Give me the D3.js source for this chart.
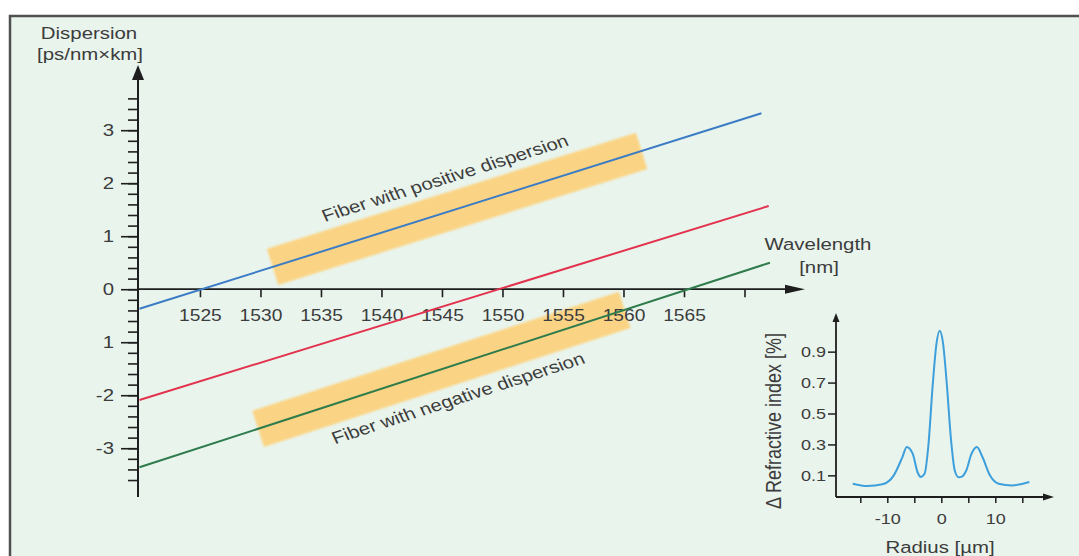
<!DOCTYPE html>
<html>
<head>
<meta charset="utf-8">
<script src="https://cdn.jsdelivr.net/npm/d3@7"></script>
<style>
  html, body { margin: 0; padding: 0; background: #ffffff; }
  svg { display: block; }
  text { font-family: "Liberation Sans", Arial, sans-serif; fill: #3c3c3c; }
</style>
</head>
<body>
<svg id="chart" width="1079" height="556"></svg>
<script>
// Dispersion lines: [wavelength nm, dispersion ps/(nm·km)]
const positiveFiber = [[1520, -0.37], [1571.4, 3.32]];
const standardFiber = [[1520, -2.09], [1572.0, 1.57]];
const negativeFiber = [[1520, -3.36], [1572.1, 0.50]];

// Highlighted wavelength spans along the two compensating fibers
const positiveBand = [1531.0, 1561.5];
const negativeBand = [1529.8, 1560.1];

// Main axes ticks
const xTicks = [1525, 1530, 1535, 1540, 1545, 1550, 1555, 1560, 1565, 1570];
const xTickLabels = ["1525", "1530", "1535", "1540", "1545", "1550", "1555", "1560", "1565", ""];
const yMajorTicks = [3, 2, 1, 0, -1, -2, -3];
const yTickLabels = ["3", "2", "1", "0", "1", "-2", "-3"];
const yMinorTicks = d3.range(-18, 19).map(i => i / 5);

// Refractive index profile (inset)
const radius = [-16.4, -13.7, -10.9, -8.8, -7.2, -6.4, -5.3, -4.4, -3.8, -3.1, -2.4, -1.6, -0.9, -0.3,
                0.3, 1.0, 1.8, 2.5, 3.2, 3.8, 4.6, 5.6, 6.6, 7.6, 9.0, 10.6, 13.1, 16.3];
const indexDelta = [0.046, 0.031, 0.042, 0.10, 0.218, 0.283, 0.24, 0.12, 0.09, 0.11, 0.29, 0.68, 0.95, 1.035,
                    0.96, 0.70, 0.33, 0.13, 0.088, 0.092, 0.13, 0.24, 0.283, 0.22, 0.10, 0.046, 0.035, 0.057];
const insetXTicks = [-15, -10, -5, 0, 5, 10, 15];
const insetXLabels = ["", "-10", "", "0", "", "10", ""];
const insetYTicks = [0.1, 0.3, 0.5, 0.7, 0.9];
const insetYLabels = ["0.1", "0.3", "0.5", "0.7", "0.9"];

const SX = 1.2; // horizontal glyph stretch used for all labels
const axisColor = "#1e1e1e";

const svg = d3.select("#chart");

// Panel background with top/left frame
svg.append("rect").attr("x", 10).attr("y", 16).attr("width", 1069).attr("height", 540).attr("fill", "#e9f4ed");
svg.append("path").attr("d", "M10,556 V16 H1079").attr("fill", "none").attr("stroke", "#505050").attr("stroke-width", 2.5);

const defs = svg.append("defs");
defs.append("filter").attr("id", "soft").attr("x", "-10%").attr("y", "-10%").attr("width", "120%").attr("height", "120%")
  .append("feGaussianBlur").attr("stdDeviation", 1.2);

// Main scales
const x = d3.scaleLinear().domain([1519.88, 1575]).range([138, 805]);
const y = d3.scaleLinear().domain([-3.92, 4.23]).range([497, 65]);

function valueAt(series, lam) {
  const [a, b] = series;
  return a[1] + (b[1] - a[1]) * (lam - a[0]) / (b[0] - a[0]);
}

// stretch a text element horizontally about its anchor point
function stretchText(sel) {
  sel.each(function () {
    const t = d3.select(this);
    const tx = +t.attr("x") || 0, ty = +t.attr("y") || 0;
    t.attr("x", 0).attr("y", 0).attr("transform", `translate(${tx},${ty}) scale(${SX},1)`);
  });
}

// Highlight bands drawn as rotated rectangles following the fiber lines
function band(series, span, halfWidth) {
  const p0 = [x(span[0]), y(valueAt(series, span[0]))];
  const p1 = [x(span[1]), y(valueAt(series, span[1]))];
  const len = Math.hypot(p1[0] - p0[0], p1[1] - p0[1]);
  const dx = (p1[0] - p0[0]) / len, dy = (p1[1] - p0[1]) / len;
  const nx = -dy * halfWidth, ny = dx * halfWidth;
  const pts = [[p0[0] + nx, p0[1] + ny], [p1[0] + nx, p1[1] + ny], [p1[0] - nx, p1[1] - ny], [p0[0] - nx, p0[1] - ny]];
  svg.append("polygon").attr("points", pts.map(p => p.join(",")).join(" "))
    .attr("fill", "#fcd27c").attr("opacity", 0.92).attr("filter", "url(#soft)");
}
band(positiveFiber, positiveBand, 19);
band(negativeFiber, negativeBand, 19);

// Y axis: minor and major ticks
const gy = svg.append("g").attr("transform", `translate(${x(1519.88)},0)`);
gy.append("g").call(d3.axisLeft(y).tickValues(yMinorTicks).tickSize(10).tickFormat(""))
  .call(g => g.select(".domain").remove());
gy.append("g").call(d3.axisLeft(y).tickValues(yMajorTicks).tickSize(17).tickPadding(7)
    .tickFormat((d, i) => yTickLabels[i]))
  .call(g => g.select(".domain").remove())
  .call(g => g.selectAll("text").attr("font-size", 17).attr("fill", "#3c3c3c").call(stretchText));
gy.selectAll(".tick line").attr("stroke", axisColor).attr("stroke-width", 1.6);

// X axis ticks below the zero line
const gx = svg.append("g").attr("transform", `translate(0,${y(0)})`);
gx.call(d3.axisBottom(x).tickValues(xTicks).tickSize(8).tickPadding(12)
    .tickFormat((d, i) => xTickLabels[i]))
  .call(g => g.select(".domain").remove())
  .call(g => g.selectAll("text").attr("font-size", 16).attr("fill", "#3c3c3c").call(stretchText));
gx.selectAll(".tick line").attr("stroke", axisColor).attr("stroke-width", 1.6);

// Axis lines with arrowheads
const x0 = x(1519.88), y0 = y(0);
svg.append("line").attr("x1", x0).attr("x2", x0).attr("y1", y(-3.92)).attr("y2", 78)
  .attr("stroke", axisColor).attr("stroke-width", 2);
svg.append("path").attr("d", `M${x0},${y(4.23)} L${x0 - 6},80 L${x0 + 6},80 Z`).attr("fill", axisColor);
svg.append("line").attr("x1", x0).attr("x2", 787).attr("y1", y0).attr("y2", y0)
  .attr("stroke", axisColor).attr("stroke-width", 1.8);
svg.append("path").attr("d", `M${x(1575)},${y0} L785,${y0 - 4.5} L785,${y0 + 4.5} Z`).attr("fill", axisColor);

// Dispersion lines
const line = d3.line().x(d => x(d[0])).y(d => y(d[1]));
[[positiveFiber, "#3b7cc4"], [standardFiber, "#e2324d"], [negativeFiber, "#2e7b4c"]].forEach(([s, c]) => {
  svg.append("path").datum(s).attr("d", line).attr("fill", "none").attr("stroke", c).attr("stroke-width", 2);
});

// Axis titles
function label(txt, cx, cy, size, anchor = "middle") {
  return svg.append("text").attr("text-anchor", anchor).attr("font-size", size)
    .attr("transform", `translate(${cx},${cy}) scale(${SX},1)`).text(txt);
}
label("Dispersion", 89, 39, 17);
label("[ps/nm×km]", 90, 60, 17);
label("Wavelength", 818, 250, 17);
label("[nm]", 819, 273, 17);

// Slanted band captions, aligned to each fiber line
function slanted(txt, series, cx, cy) {
  const a = series[0], b = series[1];
  const ang = Math.atan2(y(b[1]) - y(a[1]), x(b[0]) - x(a[0]));
  const ang0 = Math.atan(Math.tan(ang) * SX) * 180 / Math.PI;
  svg.append("text").attr("text-anchor", "middle").attr("font-size", 17).attr("dy", "0.35em")
    .attr("transform", `translate(${cx},${cy}) scale(${SX},1) rotate(${ang0})`).text(txt);
}
slanted("Fiber with positive dispersion", positiveFiber, 445, 178);
slanted("Fiber with negative dispersion", negativeFiber, 458, 398);

// Inset: refractive index profile
const xr = d3.scaleLinear().domain([-19.5, 20.5]).range([836, 1052]);
const yr = d3.scaleLinear().domain([-0.04, 1.15]).range([497, 313]);
const inset = svg.append("g");

inset.append("g").attr("transform", `translate(${xr(-19.5)},0)`)
  .call(d3.axisLeft(yr).tickValues(insetYTicks).tickSize(8).tickPadding(2).tickFormat((d, i) => insetYLabels[i]))
  .call(g => g.select(".domain").remove())
  .call(g => g.selectAll(".tick line").attr("stroke", axisColor).attr("stroke-width", 1.5))
  .call(g => g.selectAll("text").attr("font-size", 15).attr("fill", "#3c3c3c").call(stretchText));

inset.append("g").attr("transform", `translate(0,${yr(-0.04)})`)
  .call(d3.axisBottom(xr).tickValues(insetXTicks).tickSize(6).tickPadding(10).tickFormat((d, i) => insetXLabels[i]))
  .call(g => g.select(".domain").remove())
  .call(g => g.selectAll(".tick line").attr("stroke", axisColor).attr("stroke-width", 1.5))
  .call(g => g.selectAll("text").attr("font-size", 15).attr("fill", "#3c3c3c").call(stretchText));

const ix0 = xr(-19.5), iy0 = yr(-0.04);
inset.append("line").attr("x1", ix0).attr("x2", ix0).attr("y1", iy0).attr("y2", 320)
  .attr("stroke", axisColor).attr("stroke-width", 1.8);
inset.append("path").attr("d", `M${ix0},${yr(1.15)} L${ix0 - 3.5},322 L${ix0 + 3.5},322 Z`).attr("fill", axisColor);
inset.append("line").attr("x1", ix0).attr("x2", 1044).attr("y1", iy0).attr("y2", iy0)
  .attr("stroke", axisColor).attr("stroke-width", 1.8);
inset.append("path").attr("d", `M1054,${iy0} L1043,${iy0 - 3.5} L1043,${iy0 + 3.5} Z`).attr("fill", axisColor);

const profile = radius.map((r, i) => [r, indexDelta[i]]);
inset.append("path").datum(profile)
  .attr("d", d3.line().x(d => xr(d[0])).y(d => yr(d[1])).curve(d3.curveMonotoneX))
  .attr("fill", "none").attr("stroke", "#3d9fdb").attr("stroke-width", 2);

svg.append("text").attr("text-anchor", "middle").attr("font-size", 18)
  .attr("transform", `translate(781,421) rotate(-90) scale(1,${SX})`).text("Δ Refractive index [%]");
label("Radius [µm]", 940, 553, 17);
</script>
</body>
</html>
